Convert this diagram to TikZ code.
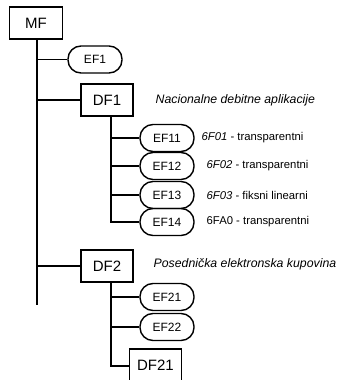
\documentclass[tikz,border=0pt]{standalone}
\usepackage{fontspec}
\setmainfont{Liberation Sans}
\begin{document}
\begin{tikzpicture}[x=1pt,y=-1pt, line width=1.4pt,
 box/.style={draw, minimum width=52pt, minimum height=32pt, inner sep=0pt, font=\fontsize{15}{17}\selectfont},
 pill/.style={draw, rounded corners=13pt, minimum width=54pt, minimum height=27pt, inner sep=0pt, font=\fontsize{12}{14}\selectfont},
 lab/.style={anchor=west, inner sep=0pt, font=\fontsize{11.3}{13}\selectfont},
 biglab/.style={anchor=west, inner sep=0pt, font=\fontsize{12.3}{14}\selectfont\itshape},
]
\useasboundingbox (0,0) rectangle (341,380);
\clip (0,0) rectangle (341,380);
\node[box, minimum width=53pt] (MF) at (36,23) {MF};
\coordinate (mainend) at (37,305);
\node[pill] (EF1) at (95,59.5) {EF1};
\node[box] (DF1) at (107,100) {DF1};
\node[biglab] (l1) at (155,100) {Nacionalne debitne aplikacije};
\node[pill] (EF11) at (167,138) {EF11};
\node[pill] (EF12) at (167,166) {EF12};
\node[pill] (EF13) at (167,195) {EF13};
\node[pill] (EF14) at (167,222) {EF14};
\node[lab] (t11) at (201,138) {\textit{6F01} - transparentni};
\node[lab] (t12) at (206,166) {\textit{6F02} - transparentni};
\node[lab] (t13) at (206,195) {\textit{6F03} - fiksni linearni};
\node[lab] (t14) at (206,222) {6FA0 - transparentni};
\node[box] (DF2) at (107,266) {DF2};
\node[biglab] (l2) at (153,264) {Posednička elektronska kupovina};
\node[pill] (EF21) at (167,297) {EF21};
\node[pill] (EF22) at (167,327) {EF22};
\node[box, minimum height=34pt] (DF21) at (155.5,366) {\raisebox{2pt}{DF21}};
% trunk
\draw ([xshift=1pt]MF.south) -- (mainend);
\draw (EF1.west) -- (EF1.west -| mainend);
\draw (DF1.west) -- (DF1.west -| mainend);
\draw (DF2.west) -- (DF2.west -| mainend);
% DF1 branch
\coordinate (d1) at ([xshift=4pt]DF1.south);
\draw (d1) |- (EF14.west);
\draw (EF11.west) -- (EF11.west -| d1);
\draw (EF12.west) -- (EF12.west -| d1);
\draw (EF13.west) -- (EF13.west -| d1);
% DF2 branch
\coordinate (d2) at ([xshift=4pt]DF2.south);
\draw (d2) |- (DF21.west);
\draw (EF21.west) -- (EF21.west -| d2);
\draw (EF22.west) -- (EF22.west -| d2);
\end{tikzpicture}
\end{document}
